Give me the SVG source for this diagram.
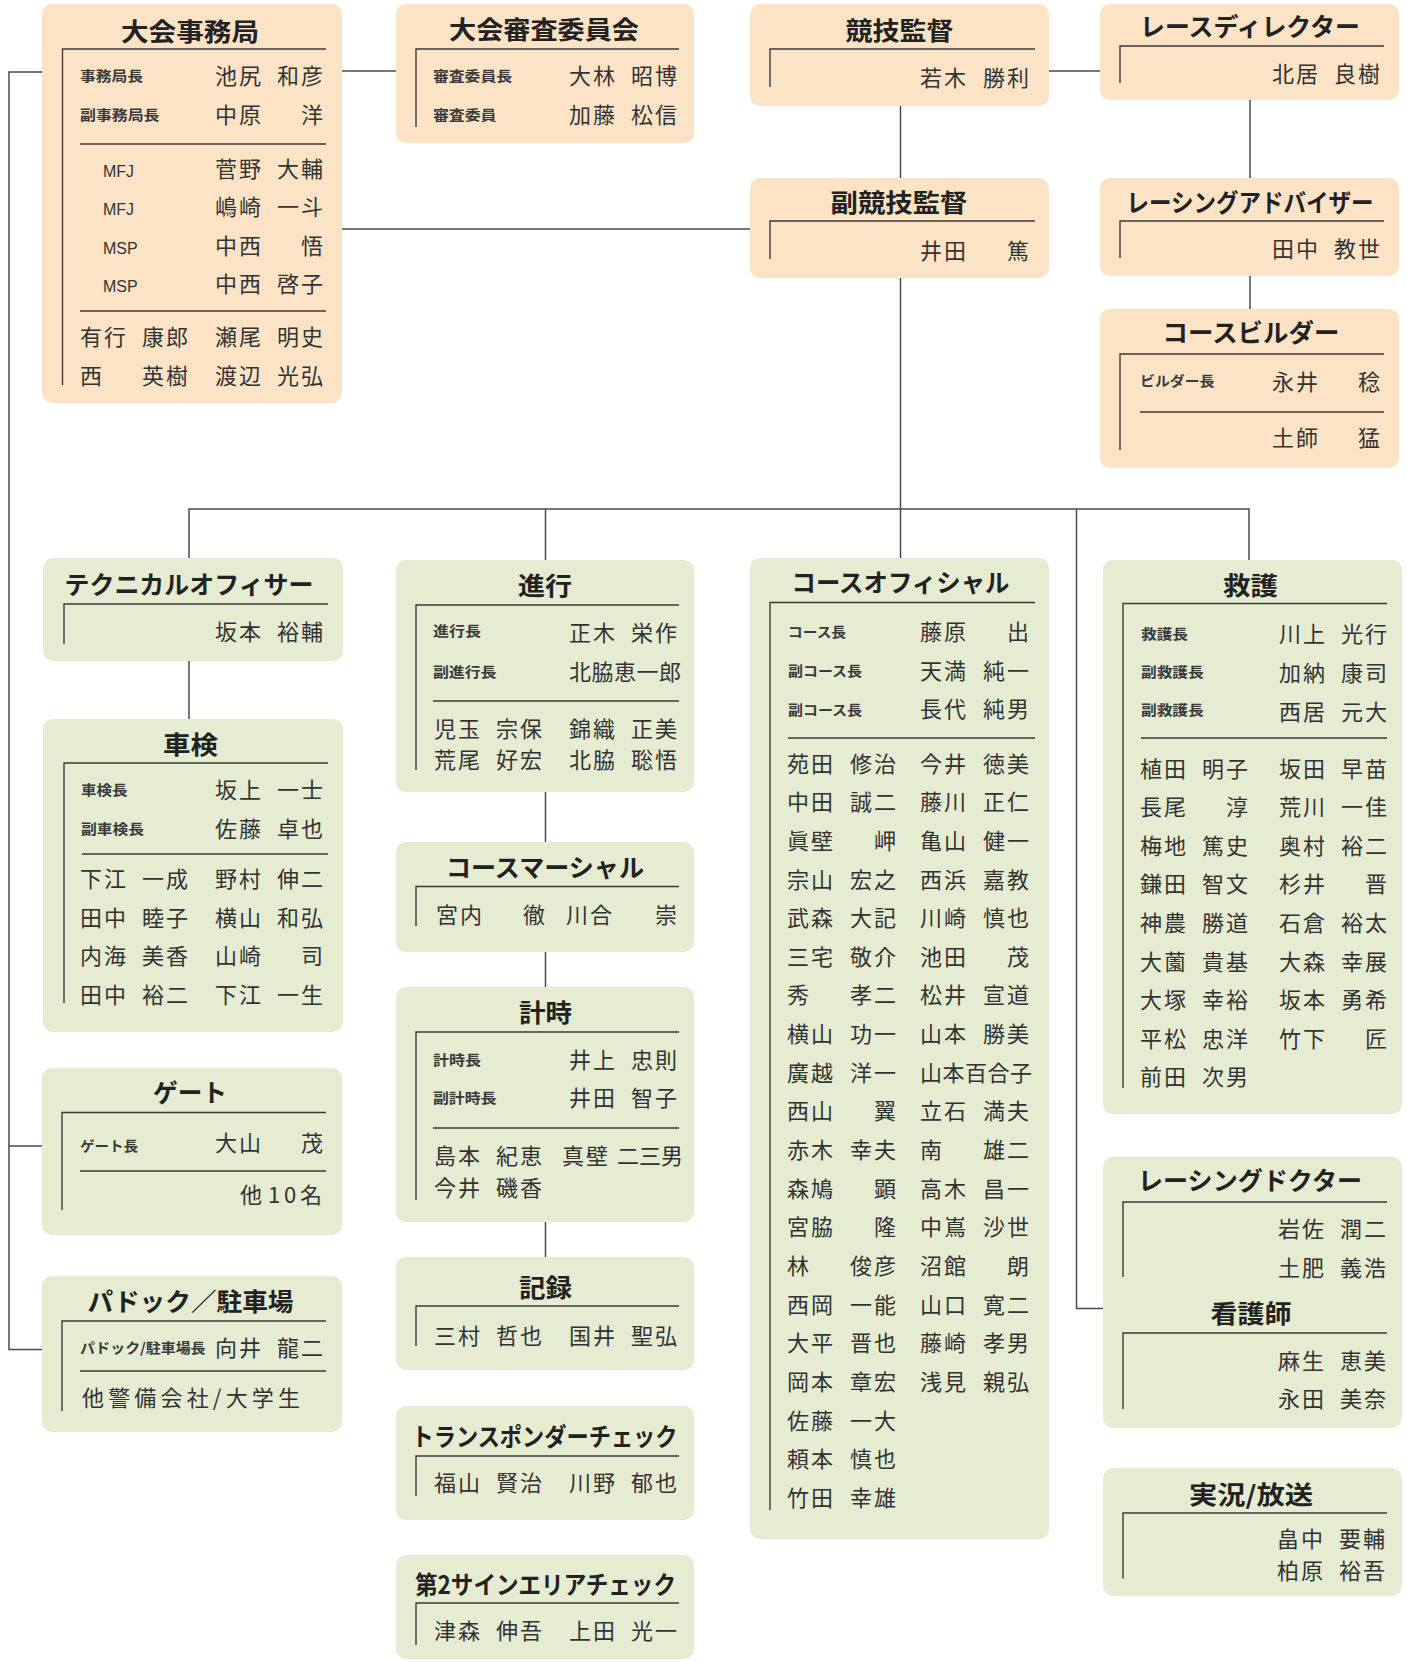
<svg xmlns="http://www.w3.org/2000/svg" width="1407" height="1662" viewBox="0 0 1407 1662">
<style>
.o{fill:#FCE3C5}
.g{fill:#E5ECD1}
.t{font-family:"Noto Sans CJK JP","Noto Sans",sans-serif;font-weight:700;font-size:25px;fill:#222;text-anchor:middle}
.n{font-family:"Noto Sans CJK JP","Noto Sans",sans-serif;font-size:22px;fill:#333}
.l{font-family:"Noto Sans CJK JP","Noto Sans",sans-serif;font-size:14px;font-weight:700;fill:#3a3a3a}
.m{font-family:"Liberation Sans",Arial,sans-serif;font-size:16px;fill:#333}
.b{stroke:#3a3a3a;stroke-width:1.4;fill:none}
.c{stroke:#4a4a4a;stroke-width:1.5;fill:none}
</style>
<rect width="1407" height="1662" fill="#FFFFFF"/>

<g id="connectors" class="c">
<path d="M342 71H396"/>
<path d="M1049 71H1100"/>
<path d="M900.5 106V178"/>
<path d="M1250 100V178"/>
<path d="M1250 276V309"/>
<path d="M342 229H750"/>
<path d="M900.5 278V558"/>
<path d="M189 558V509H1249V560"/>
<path d="M545.5 509V560"/>
<path d="M1076.5 509V1308.5H1103"/>
<path d="M189 661V719"/>
<path d="M545.5 792V842"/>
<path d="M545.5 952V987"/>
<path d="M545.5 1222V1257"/>
<path d="M42 72H9V1349.5H42"/>
<path d="M9 1146H42"/>
</g>

<g id="taikai-jimukyoku">
<rect class="o" x="42" y="4" width="300" height="399" rx="10"/>
<text class="t" x="190" y="41" textLength="138" lengthAdjust="spacingAndGlyphs">大会事務局</text>
<path class="b" d="M62.5 385V49H326M80 144H326M80 311H326"/>
<text class="l" x="80" y="80.5" textLength="63" lengthAdjust="spacingAndGlyphs">事務局長</text>
<text class="n" x="215 239 277 301" y="84">池尻和彦</text>
<text class="l" x="80" y="119.5" textLength="79.5" lengthAdjust="spacingAndGlyphs">副事務局長</text>
<text class="n" x="215 239 301" y="123">中原洋</text>
<text class="m" x="103" y="176.5">MFJ</text>
<text class="n" x="215 239 277 301" y="176.5">菅野大輔</text>
<text class="m" x="103" y="215">MFJ</text>
<text class="n" x="215 239 277 301" y="215">嶋崎一斗</text>
<text class="m" x="103" y="253.5">MSP</text>
<text class="n" x="215 239 301" y="253.5">中西悟</text>
<text class="m" x="103" y="292">MSP</text>
<text class="n" x="215 239 277 301" y="292">中西啓子</text>
<text class="n" x="80 104 142 166 215 239 277 301" y="345">有行康郎瀬尾明史</text>
<text class="n" x="80 142 166 215 239 277 301" y="383.5">西英樹渡辺光弘</text>
</g>

<g id="shinsa-iinkai">
<rect class="o" x="396" y="4" width="298" height="139" rx="10"/>
<text class="t" x="544" y="39" textLength="190" lengthAdjust="spacingAndGlyphs">大会審査委員会</text>
<path class="b" d="M416 127V49H679"/>
<text class="l" x="433" y="80.5" textLength="79" lengthAdjust="spacingAndGlyphs">審査委員長</text>
<text class="n" x="569 593 631 655" y="84">大林昭博</text>
<text class="l" x="433" y="119.5" textLength="63.5" lengthAdjust="spacingAndGlyphs">審査委員</text>
<text class="n" x="569 593 631 655" y="122.5">加藤松信</text>
</g>

<g id="kyogi-kantoku">
<rect class="o" x="750" y="4" width="299" height="102" rx="10"/>
<text class="t" x="899.5" y="40" textLength="108" lengthAdjust="spacingAndGlyphs">競技監督</text>
<path class="b" d="M770 87V49H1035"/>
<text class="n" x="920 944 983 1007" y="86">若木勝利</text>
</g>

<g id="race-director">
<rect class="o" x="1100" y="4" width="299" height="96" rx="10"/>
<text class="t" x="1250" y="36" textLength="220" lengthAdjust="spacingAndGlyphs">レースディレクター</text>
<path class="b" d="M1120 83V46H1384"/>
<text class="n" x="1272 1296 1334 1358" y="82">北居良樹</text>
</g>

<g id="fuku-kyogi-kantoku">
<rect class="o" x="750" y="178" width="299" height="100" rx="10"/>
<text class="t" x="899" y="212" textLength="137" lengthAdjust="spacingAndGlyphs">副競技監督</text>
<path class="b" d="M770 259V221H1035"/>
<text class="n" x="920 944 1007" y="258.5">井田篤</text>
</g>

<g id="racing-advisor">
<rect class="o" x="1100" y="178" width="299" height="98" rx="10"/>
<text class="t" x="1250" y="212" textLength="247" lengthAdjust="spacingAndGlyphs">レーシングアドバイザー</text>
<path class="b" d="M1120 258V221H1384"/>
<text class="n" x="1272 1296 1334 1358" y="257">田中教世</text>
</g>

<g id="course-builder">
<rect class="o" x="1100" y="309" width="299" height="159" rx="10"/>
<text class="t" x="1251" y="342" textLength="177" lengthAdjust="spacingAndGlyphs">コースビルダー</text>
<path class="b" d="M1120 450V354H1384M1140 412H1384"/>
<text class="l" x="1140" y="386" textLength="74.5" lengthAdjust="spacingAndGlyphs">ビルダー長</text>
<text class="n" x="1272 1296 1358" y="390">永井稔</text>
<text class="n" x="1272 1296 1358" y="446">土師猛</text>
</g>

<g id="technical-officer">
<rect class="g" x="43" y="558" width="300" height="103" rx="10"/>
<text class="t" x="189" y="594" textLength="249" lengthAdjust="spacingAndGlyphs">テクニカルオフィサー</text>
<path class="b" d="M64 644V604H328"/>
<text class="n" x="215 239 277 301" y="640">坂本裕輔</text>
</g>

<g id="shaken">
<rect class="g" x="43" y="719" width="300" height="313" rx="10"/>
<text class="t" x="190.5" y="753.5" textLength="55" lengthAdjust="spacingAndGlyphs">車検</text>
<path class="b" d="M64 1003V763H328M82 854H328"/>
<text class="l" x="81" y="795" textLength="46.5" lengthAdjust="spacingAndGlyphs">車検長</text>
<text class="n" x="215 239 277 301" y="797.5">坂上一士</text>
<text class="l" x="81" y="834" textLength="63" lengthAdjust="spacingAndGlyphs">副車検長</text>
<text class="n" x="215 239 277 301" y="836.5">佐藤卓也</text>
<text class="n" x="80 104 142 166 215 239 277 301" y="886.5">下江一成野村伸二</text>
<text class="n" x="80 104 142 166 215 239 277 301" y="925.5">田中睦子横山和弘</text>
<text class="n" x="80 104 142 166 215 239 301" y="964">内海美香山崎司</text>
<text class="n" x="80 104 142 166 215 239 277 301" y="1002.5">田中裕二下江一生</text>
</g>

<g id="gate">
<rect class="g" x="42" y="1068" width="300" height="167" rx="10"/>
<text class="t" x="190" y="1102" textLength="74" lengthAdjust="spacingAndGlyphs">ゲート</text>
<path class="b" d="M62 1210V1112.5H326M80 1171H326"/>
<text class="l" x="80" y="1151" textLength="58" lengthAdjust="spacingAndGlyphs">ゲート長</text>
<text class="n" x="215 239 301" y="1150.5">大山茂</text>
<text class="n" x="240 268 284 300" y="1203">他10名</text>
</g>

<g id="paddock">
<rect class="g" x="42" y="1276" width="300" height="156" rx="10"/>
<text class="t" x="190.5" y="1310.5" textLength="206" lengthAdjust="spacingAndGlyphs">パドック／駐車場</text>
<path class="b" d="M62 1411V1321H326M80 1371H326"/>
<text class="l" x="80" y="1352.5" textLength="125.5" lengthAdjust="spacingAndGlyphs">パドック/駐車場長</text>
<text class="n" x="215 239 277 301" y="1355.5">向井龍二</text>
<text class="n" x="82" y="1405.5" textLength="218">他警備会社/大学生</text>
</g>

<g id="shinko">
<rect class="g" x="396" y="560" width="298" height="232" rx="10"/>
<text class="t" x="545" y="594.5" textLength="54" lengthAdjust="spacingAndGlyphs">進行</text>
<path class="b" d="M416 770V605H679M433 701H679"/>
<text class="l" x="433" y="636" textLength="48" lengthAdjust="spacingAndGlyphs">進行長</text>
<text class="n" x="569 593 631 655" y="641">正木栄作</text>
<text class="l" x="433" y="676.5" textLength="63.5" lengthAdjust="spacingAndGlyphs">副進行長</text>
<text class="n" x="569 591.5 614 636.5 659" y="680">北脇恵一郎</text>
<text class="n" x="434 458 496 520 569 593 631 655" y="736.5">児玉宗保錦織正美</text>
<text class="n" x="434 458 496 520 569 593 631 655" y="767.5">荒尾好宏北脇聡悟</text>
</g>

<g id="course-marshal">
<rect class="g" x="396" y="842" width="298" height="110" rx="10"/>
<text class="t" x="545" y="876.5" textLength="198" lengthAdjust="spacingAndGlyphs">コースマーシャル</text>
<path class="b" d="M416 926V886.5H679"/>
<text class="n" x="436 460 523 566 590 655" y="923">宮内徹川合崇</text>
</g>

<g id="keiji">
<rect class="g" x="396" y="987" width="298" height="235" rx="10"/>
<text class="t" x="545.5" y="1022" textLength="53" lengthAdjust="spacingAndGlyphs">計時</text>
<path class="b" d="M416 1200V1032H679M433 1128H679"/>
<text class="l" x="433" y="1065" textLength="48" lengthAdjust="spacingAndGlyphs">計時長</text>
<text class="n" x="569 593 631 655" y="1068">井上忠則</text>
<text class="l" x="433" y="1102.5" textLength="63.5" lengthAdjust="spacingAndGlyphs">副計時長</text>
<text class="n" x="569 593 631 655" y="1106">井田智子</text>
<text class="n" x="434 458 496 520 562 586 617 639 661" y="1163.5">島本紀恵真壁二三男</text>
<text class="n" x="434 458 496 520" y="1196">今井磯香</text>
</g>

<g id="kiroku">
<rect class="g" x="396" y="1257" width="298" height="113" rx="10"/>
<text class="t" x="545.5" y="1296.5" textLength="53" lengthAdjust="spacingAndGlyphs">記録</text>
<path class="b" d="M416 1346V1306H679"/>
<text class="n" x="434 458 496 520 569 593 631 655" y="1344">三村哲也国井聖弘</text>
</g>

<g id="transponder-check">
<rect class="g" x="396" y="1406" width="298" height="114" rx="10"/>
<text class="t" x="544.5" y="1446" textLength="266" lengthAdjust="spacingAndGlyphs">トランスポンダーチェック</text>
<path class="b" d="M416 1496V1456H679"/>
<text class="n" x="434 458 496 520 569 593 631 655" y="1490.5">福山賢治川野郁也</text>
</g>

<g id="second-sign-area-check">
<rect class="g" x="396" y="1555" width="298" height="104" rx="10"/>
<text class="t" x="545.5" y="1594" textLength="261" lengthAdjust="spacingAndGlyphs">第2サインエリアチェック</text>
<path class="b" d="M416 1645V1603H679"/>
<text class="n" x="434 458 496 520 569 593 631 655" y="1639">津森伸吾上田光一</text>
</g>

<g id="course-official">
<rect class="g" x="750" y="558" width="299" height="981" rx="10"/>
<text class="t" x="900.5" y="592" textLength="218" lengthAdjust="spacingAndGlyphs">コースオフィシャル</text>
<path class="b" d="M770 1510V602.5H1035M788 738H1035"/>
<text class="l" x="788" y="637" textLength="58" lengthAdjust="spacingAndGlyphs">コース長</text>
<text class="n" x="920 944 1007" y="639.5">藤原出</text>
<text class="l" x="788" y="676" textLength="74" lengthAdjust="spacingAndGlyphs">副コース長</text>
<text class="n" x="920 944 983 1007" y="678.5">天満純一</text>
<text class="l" x="788" y="714.5" textLength="74" lengthAdjust="spacingAndGlyphs">副コース長</text>
<text class="n" x="920 944 983 1007" y="717">長代純男</text>
<text class="n" x="787 811 850 874 920 944 983 1007" y="771.5">苑田修治今井徳美</text>
<text class="n" x="787 811 850 874 920 944 983 1007" y="810.2">中田誠二藤川正仁</text>
<text class="n" x="787 811 874 920 944 983 1007" y="848.8">眞壁岬亀山健一</text>
<text class="n" x="787 811 850 874 920 944 983 1007" y="887.5">宗山宏之西浜嘉教</text>
<text class="n" x="787 811 850 874 920 944 983 1007" y="926.1">武森大記川崎慎也</text>
<text class="n" x="787 811 850 874 920 944 1007" y="964.8">三宅敬介池田茂</text>
<text class="n" x="787 850 874 920 944 983 1007" y="1003.4">秀孝二松井宣道</text>
<text class="n" x="787 811 850 874 920 944 983 1007" y="1042.1">横山功一山本勝美</text>
<text class="n" x="787 811 850 874 920 942.5 965 987.5 1010" y="1080.7">廣越洋一山本百合子</text>
<text class="n" x="787 811 874 920 944 983 1007" y="1119.4">西山翼立石満夫</text>
<text class="n" x="787 811 850 874 920 983 1007" y="1158">赤木幸夫南雄二</text>
<text class="n" x="787 811 874 920 944 983 1007" y="1196.7">森鳩顕高木昌一</text>
<text class="n" x="787 811 874 920 944 983 1007" y="1235.3">宮脇隆中嶌沙世</text>
<text class="n" x="787 850 874 920 944 1007" y="1274">林俊彦沼館朗</text>
<text class="n" x="787 811 850 874 920 944 983 1007" y="1312.6">西岡一能山口寛二</text>
<text class="n" x="787 811 850 874 920 944 983 1007" y="1351.3">大平晋也藤崎孝男</text>
<text class="n" x="787 811 850 874 920 944 983 1007" y="1389.9">岡本章宏浅見親弘</text>
<text class="n" x="787 811 850 874" y="1428.6">佐藤一大</text>
<text class="n" x="787 811 850 874" y="1467.2">頼本慎也</text>
<text class="n" x="787 811 850 874" y="1505.9">竹田幸雄</text>
</g>

<g id="kyugo">
<rect class="g" x="1103" y="560" width="299" height="554" rx="10"/>
<text class="t" x="1250.5" y="594.5" textLength="55" lengthAdjust="spacingAndGlyphs">救護</text>
<path class="b" d="M1123 1088V603.5H1387M1141 738H1387"/>
<text class="l" x="1141" y="638.5" textLength="47" lengthAdjust="spacingAndGlyphs">救護長</text>
<text class="n" x="1279 1303 1341 1365" y="641.5">川上光行</text>
<text class="l" x="1141" y="677" textLength="62.7" lengthAdjust="spacingAndGlyphs">副救護長</text>
<text class="n" x="1279 1303 1341 1365" y="680.5">加納康司</text>
<text class="l" x="1141" y="715" textLength="62.7" lengthAdjust="spacingAndGlyphs">副救護長</text>
<text class="n" x="1279 1303 1341 1365" y="719.5">西居元大</text>
<text class="n" x="1140 1164 1202 1226 1279 1303 1341 1365" y="776.5">植田明子坂田早苗</text>
<text class="n" x="1140 1164 1226 1279 1303 1341 1365" y="815.1">長尾淳荒川一佳</text>
<text class="n" x="1140 1164 1202 1226 1279 1303 1341 1365" y="853.7">梅地篤史奥村裕二</text>
<text class="n" x="1140 1164 1202 1226 1279 1303 1365" y="892.3">鎌田智文杉井晋</text>
<text class="n" x="1140 1164 1202 1226 1279 1303 1341 1365" y="930.9">神農勝道石倉裕太</text>
<text class="n" x="1140 1164 1202 1226 1279 1303 1341 1365" y="969.5">大薗貴基大森幸展</text>
<text class="n" x="1140 1164 1202 1226 1279 1303 1341 1365" y="1008.1">大塚幸裕坂本勇希</text>
<text class="n" x="1140 1164 1202 1226 1279 1303 1365" y="1046.7">平松忠洋竹下匠</text>
<text class="n" x="1140 1164 1202 1226" y="1085.3">前田次男</text>
</g>

<g id="racing-doctor">
<rect class="g" x="1103" y="1157" width="299" height="271" rx="10"/>
<text class="t" x="1250" y="1190" textLength="224" lengthAdjust="spacingAndGlyphs">レーシングドクター</text>
<path class="b" d="M1123 1277V1202H1387"/>
<text class="n" x="1278 1302 1340 1364" y="1236.5">岩佐潤二</text>
<text class="n" x="1278 1302 1340 1364" y="1276">土肥義浩</text>
<text class="t" x="1251" y="1322.5" textLength="81" lengthAdjust="spacingAndGlyphs">看護師</text>
<path class="b" d="M1123 1409V1333H1387"/>
<text class="n" x="1278 1302 1340 1364" y="1369">麻生恵美</text>
<text class="n" x="1278 1302 1340 1364" y="1406.5">永田美奈</text>
</g>

<g id="jikkyo-hoso">
<rect class="g" x="1103" y="1468" width="299" height="128" rx="10"/>
<text class="t" x="1251" y="1503.5" textLength="124" lengthAdjust="spacingAndGlyphs">実況/放送</text>
<path class="b" d="M1123 1578.5V1513H1387"/>
<text class="n" x="1277 1301 1339 1363" y="1546.5">畠中要輔</text>
<text class="n" x="1277 1301 1339 1363" y="1578.5">柏原裕吾</text>
</g>
</svg>
